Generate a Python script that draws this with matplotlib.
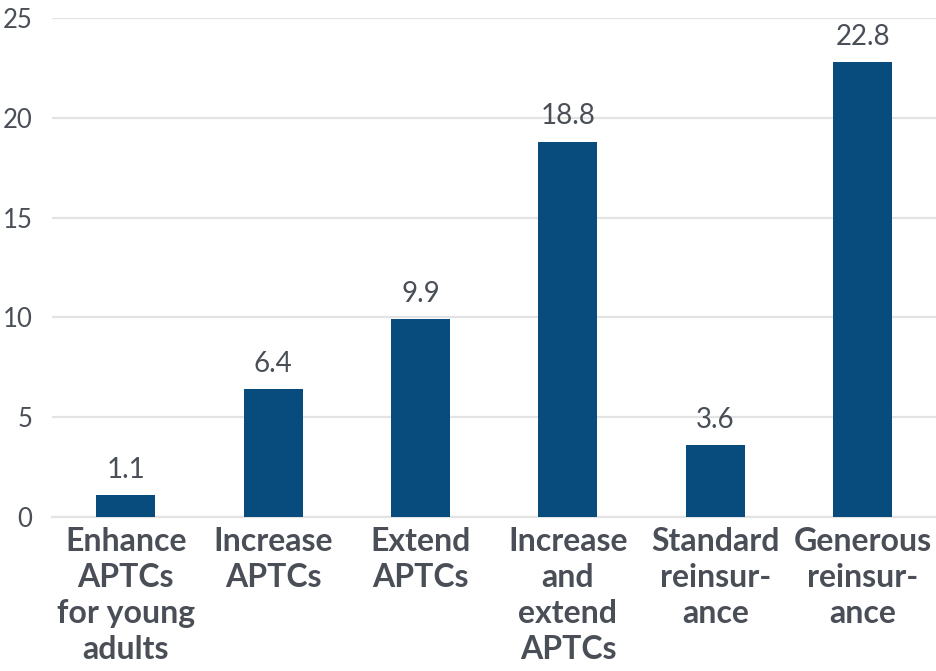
import matplotlib
matplotlib.use('Agg')
import matplotlib.pyplot as plt

categories = [
    "Enhance\nAPTCs\nfor young\nadults",
    "Increase\nAPTCs",
    "Extend\nAPTCs",
    "Increase\nand\nextend\nAPTCs",
    "Standard\nreinsur-\nance",
    "Generous\nreinsur-\nance",
]
values = [1.1, 6.4, 9.9, 18.8, 3.6, 22.8]
yticks = [0, 5, 10, 15, 20, 25]

BAR = "#084c7e"
TEXT = "#4a4f57"
GRID = "#e3e3e3"

plt.rcParams['font.family'] = ['Lato', 'DejaVu Sans']

fig = plt.figure(figsize=(9.37, 6.71), dpi=100)
ax = fig.add_axes([0.0555, 0.2295, 0.944, 0.7435])

x = list(range(len(values)))
bars = ax.bar(x, values, width=0.4, color=BAR, zorder=3)

for xi, v in zip(x, values):
    ax.annotate(f"{v:.1f}", (xi, v), xytext=(0, 9), textcoords="offset points",
                ha="center", va="bottom", fontsize=20, color=TEXT)

ax.set_xlim(-0.5, len(values) - 0.5)
ax.set_ylim(0, 25)
ax.set_yticks(yticks)
ax.set_yticklabels([str(t) for t in yticks], fontsize=18.5, color=TEXT)
ax.set_xticks(x)
ax.set_xticklabels(categories, fontsize=23, fontweight="bold", color=TEXT,
                   linespacing=1.3, va="top")
ax.tick_params(axis="y", length=0, pad=14)
ax.tick_params(axis="x", length=0, pad=7)

ax.yaxis.grid(True, color=GRID, linewidth=1.6, zorder=0)
for s in ["top", "right", "left"]:
    ax.spines[s].set_visible(False)
ax.spines["bottom"].set_color(GRID)
ax.spines["bottom"].set_linewidth(1.6)

fig.savefig("out.png", dpi=100)
